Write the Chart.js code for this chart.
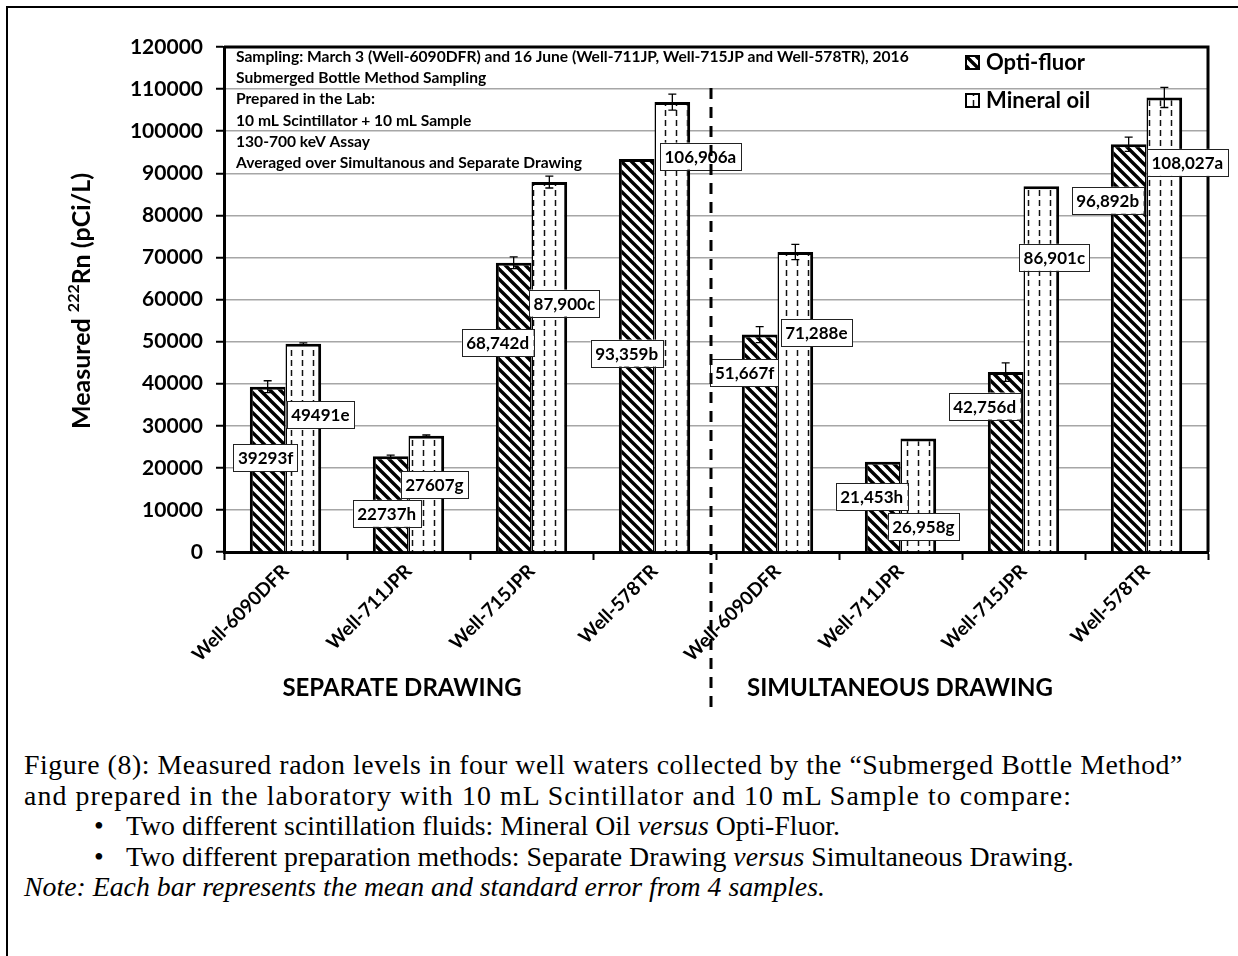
<!DOCTYPE html>
<html>
<head>
<meta charset="utf-8">
<script src="https://cdn.jsdelivr.net/npm/chart.js@4.4.1/dist/chart.umd.min.js"></script>
<style>
  html, body { margin: 0; padding: 0; background: #fff; overflow: hidden; }
  #frame { position: absolute; left: 6px; top: 6px; width: 1300px; height: 1000px; border: 2px solid #000; box-sizing: border-box; }
  #myChart { position: absolute; left: 0; top: 0; }
  #caption { position: absolute; left: 24px; top: 750px; font-family: 'Liberation Serif', 'Times New Roman', serif; font-size: 27.8px; line-height: 30.5px; color: #000; white-space: nowrap; }
  #caption .l1 { letter-spacing: 0.58px; }
  #caption .l2 { letter-spacing: 1.1px; }
  #caption .b { position: relative; padding-left: 102px; }
  #caption .b span { position: absolute; left: 70px; }
</style>
</head>
<body>
<div id="frame"></div>
<canvas id="myChart" width="1238" height="745"></canvas>
<div id="caption">
  <div class="l1">Figure (8): Measured radon levels in four well waters collected by the “Submerged Bottle Method”</div>
  <div class="l2">and prepared in the laboratory with 10 mL Scintillator and 10 mL Sample to compare:</div>
  <div class="b"><span>•</span>Two different scintillation fluids: Mineral Oil <i>versus</i> Opti-Fluor.</div>
  <div class="b"><span>•</span>Two different preparation methods: Separate Drawing <i>versus</i> Simultaneous Drawing.</div>
  <div><i>Note: Each bar represents the mean and standard error from 4 samples.</i></div>
</div>
<script>
// datos
const categories = ['Well-6090DFR', 'Well-711JPR', 'Well-715JPR', 'Well-578TR',
                    'Well-6090DFR', 'Well-711JPR', 'Well-715JPR', 'Well-578TR'];
const optiFluor  = [39293, 22737, 68742, 93359, 51667, 21453, 42756, 96892];
const mineralOil = [49491, 27607, 87900, 106906, 71288, 26958, 86901, 108027];
const optiErr    = [1400, 300, 1400, 0, 1900, 0, 2200, 1700];
const mineralErr = [200, 200, 1400, 1900, 1800, 0, 0, 2400];
const optiLabels    = ['39293f', '22737h', '68,742d', '93,359b', '51,667f', '21,453h', '42,756d', '96,892b'];
const mineralLabels = ['49491e', '27607g', '87,900c', '106,906a', '71,288e', '26,958g', '86,901c', '108,027a'];
const groupNames = ['SEPARATE DRAWING', 'SIMULTANEOUS DRAWING'];
const infoLines = [
  'Sampling: March 3 (Well-6090DFR) and 16 June (Well-711JP, Well-715JP and Well-578TR), 2016',
  'Submerged Bottle Method Sampling',
  'Prepared in the Lab:',
  '10 mL Scintillator + 10 mL Sample',
  '130-700 keV Assay',
  'Averaged over Simultanous and Separate Drawing'
];

// where each value box sits, relative to the top of its bar (px)
const optiLabelOffset    = [[-2, 71], [-4, 57], [-16, 80], [-10, 194], [-15, 38], [-11, 35], [-21, 34], [-21, 56]];
const mineralLabelOffset = [[17, 71], [8, 49], [15, 121], [28, 54], [21, 81], [5, 88], [13, 71], [23, 65]];

const FONT = 'Lato, "Noto Sans", sans-serif';

function hatchPattern() {
  const s = 10;
  const c = document.createElement('canvas');
  c.width = c.height = s;
  const g = c.getContext('2d');
  g.fillStyle = '#fff';
  g.fillRect(0, 0, s, s);
  g.strokeStyle = '#000';
  g.lineWidth = 3.4;
  [-s, 0, s].forEach(k => {
    g.beginPath();
    g.moveTo(k - 1, -1);
    g.lineTo(k + s + 1, s + 1);
    g.stroke();
  });
  return g.createPattern(c, 'repeat');
}

function dashPattern() {
  const c = document.createElement('canvas');
  c.width = 11;
  c.height = 10;
  const g = c.getContext('2d');
  g.fillStyle = '#fff';
  g.fillRect(0, 0, 11, 10);
  g.strokeStyle = '#111';
  g.lineWidth = 1.5;
  g.beginPath();
  g.moveTo(5.5, 0);
  g.lineTo(5.5, 6);
  g.stroke();
  return g.createPattern(c, 'repeat');
}

const hatch = hatchPattern();
const dots = dashPattern();

const extras = {
  id: 'extras',
  afterDraw(chart) {
    const {ctx, chartArea: ca, scales: {x, y}} = chart;
    ctx.save();

    // top and right border of the plot area
    ctx.strokeStyle = '#000';
    ctx.lineWidth = 3;
    ctx.beginPath();
    ctx.moveTo(ca.left, ca.top);
    ctx.lineTo(ca.right, ca.top);
    ctx.lineTo(ca.right, ca.bottom);
    ctx.stroke();

    // error bars
    const errs = [optiErr, mineralErr];
    const vals = [optiFluor, mineralOil];
    ctx.lineWidth = 1.3;
    [0, 1].forEach(d => {
      chart.getDatasetMeta(d).data.forEach((el, i) => {
        const e = errs[d][i];
        if (!e) return;
        const yt = y.getPixelForValue(vals[d][i] + e);
        const yb = y.getPixelForValue(vals[d][i] - e);
        ctx.beginPath();
        ctx.moveTo(el.x, yt); ctx.lineTo(el.x, yb);
        ctx.moveTo(el.x - 4, yt); ctx.lineTo(el.x + 4, yt);
        ctx.moveTo(el.x - 4, yb); ctx.lineTo(el.x + 4, yb);
        ctx.stroke();
      });
    });

    // value boxes
    const texts = [optiLabels, mineralLabels];
    const offs = [optiLabelOffset, mineralLabelOffset];
    ctx.font = 'bold 17px ' + FONT;
    ctx.textAlign = 'center';
    ctx.textBaseline = 'middle';
    [0, 1].forEach(d => {
      chart.getDatasetMeta(d).data.forEach((el, i) => {
        const cx = el.x + offs[d][i][0];
        const cy = el.y + offs[d][i][1];
        const w = ctx.measureText(texts[d][i]).width + 9;
        const h = 27;
        ctx.fillStyle = '#fff';
        ctx.fillRect(cx - w / 2, cy - h / 2, w, h);
        ctx.strokeStyle = '#222';
        ctx.lineWidth = 1;
        ctx.strokeRect(Math.round(cx - w / 2) + 0.5, Math.round(cy - h / 2) + 0.5, Math.round(w), h);
        ctx.fillStyle = '#000';
        ctx.fillText(texts[d][i], cx, cy + 1);
      });
    });

    // info text, top left of plot
    ctx.textAlign = 'left';
    ctx.font = 'bold 15.6px ' + FONT;
    infoLines.forEach((t, i) => ctx.fillText(t, ca.left + 12, ca.top + 10 + i * 21.2));

    // legend
    const legend = [['Opti-fluor', hatch], ['Mineral oil', dots]];
    ctx.font = 'bold 22px ' + FONT;
    legend.forEach(([name, fill], i) => {
      const ly = 62 + i * 38;
      ctx.fillStyle = fill;
      ctx.fillRect(966, ly - 6, 13, 13);
      ctx.strokeStyle = '#000';
      ctx.lineWidth = 2;
      ctx.strokeRect(966, ly - 6, 13, 13);
      ctx.fillStyle = '#000';
      ctx.fillText(name, 986, ly + 1);
    });

    // y axis title with superscript
    ctx.save();
    ctx.translate(82, 301);
    ctx.rotate(-Math.PI / 2);
    const big = 'bold 25px ' + FONT, small = 'bold 16px ' + FONT;
    const parts = [['Measured ', big, 0], ['222', small, -8], ['Rn (pCi/L)', big, 0]];
    let total = 0;
    parts.forEach(p => { ctx.font = p[1]; total += ctx.measureText(p[0]).width; });
    let px = -total / 2;
    parts.forEach(p => {
      ctx.font = p[1];
      ctx.fillText(p[0], px, p[2]);
      px += ctx.measureText(p[0]).width;
    });
    ctx.restore();

    // group names under the axis
    ctx.font = 'bold 24px ' + FONT;
    ctx.textAlign = 'center';
    ctx.fillText(groupNames[0], 402, 688);
    ctx.fillText(groupNames[1], 900, 688);

    // dashed divider between the two drawing methods
    const xd = (x.getPixelForValue(3) + x.getPixelForValue(4)) / 2 - 5;
    ctx.strokeStyle = '#000';
    ctx.lineWidth = 3;
    ctx.setLineDash([11, 8]);
    ctx.beginPath();
    ctx.moveTo(xd, 88);
    ctx.lineTo(xd, 712);
    ctx.stroke();
    ctx.setLineDash([]);

    ctx.restore();
  }
};

var ctx = document.getElementById('myChart').getContext('2d');
var chart = new Chart(ctx, {
  type: 'bar',
  data: {
    labels: categories,
    datasets: [{
      label: 'Opti-fluor',
      data: optiFluor,
      backgroundColor: hatch,
      borderColor: '#000',
      borderWidth: {top: 3, left: 3, right: 1.5, bottom: 0}
    }, {
      label: 'Mineral oil',
      data: mineralOil,
      backgroundColor: dots,
      borderColor: '#000',
      borderWidth: {top: 3, left: 1.5, right: 3, bottom: 0}
    }]
  },
  options: {
    responsive: false,
    animation: false,
    categoryPercentage: 0.58,
    barPercentage: 1.0,
    layout: { padding: {top: 47, right: 30, left: 0, bottom: 0} },
    plugins: {
      legend: { display: false },
      tooltip: { enabled: false }
    },
    scales: {
      x: {
        grid: { offset: true, drawOnChartArea: false, drawTicks: true, tickLength: 8, tickColor: '#000', tickWidth: 2 },
        border: { color: '#000', width: 3 },
        ticks: { color: '#000', font: {family: FONT, weight: 'bold', size: 19}, maxRotation: 45, minRotation: 45, padding: 0, autoSkip: false },
        afterFit(s) { s.height = 745 - 552; }
      },
      y: {
        min: 0,
        max: 120000,
        grid: { color: '#a6a6a6', lineWidth: 1.5, tickLength: 8, tickColor: '#000', tickWidth: 2 },
        border: { color: '#000', width: 3 },
        ticks: { stepSize: 10000, color: '#000', font: {family: FONT, weight: 'bold', size: 21}, padding: 13, callback: v => String(v) },
        afterFit(s) { s.width = 224; }
      }
    }
  },
  plugins: [extras]
});
</script>
</body>
</html>
